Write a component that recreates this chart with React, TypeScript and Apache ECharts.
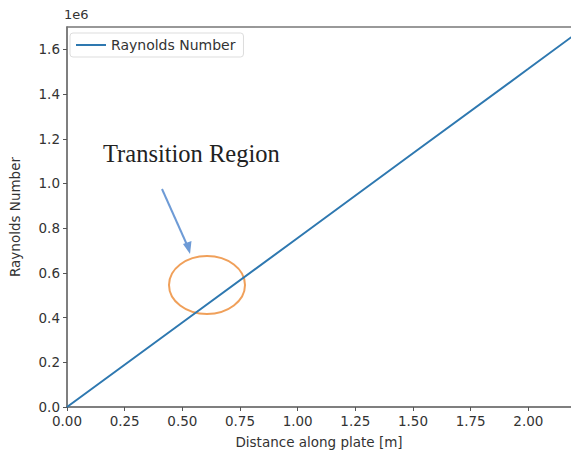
import React, { useEffect, useRef } from "react";
import * as echarts from "echarts";

const seriesName = "Raynolds Number";
const distance = [0, 0.5, 1.0, 1.5, 2.0, 2.2];
const reynolds = [0, 378000, 756000, 1135000, 1513000, 1665000];
const xTicks = [0, 0.25, 0.5, 0.75, 1.0, 1.25, 1.5, 1.75, 2.0];
const yTicks = [0, 200000, 400000, 600000, 800000, 1000000, 1200000, 1400000, 1600000];
const annotationText = "Transition Region";
const xName = "Distance along plate [m]";
const yName = "Raynolds Number";
const offsetText = "1e6";

export default function App() {
  const ref = useRef<HTMLDivElement>(null);
  useEffect(() => {
    document.body.style.margin = "0";
    const chart = echarts.init(ref.current!, null, { renderer: "svg" });
    const font = "DejaVu Sans";
    chart.setOption({
      animation: false,
      backgroundColor: "#ffffff",
      grid: {
        left: 63,
        top: 27,
        right: 0,
        bottom: 45,
        show: false,
        containLabel: false,
      },
      legend: {
        left: 70,
        top: 33,
        padding: [5, 8, 5, 6],
        backgroundColor: "#fff",
        borderColor: "#ddd",
        borderWidth: 1,
        borderRadius: 3,
        itemWidth: 30,
        itemHeight: 10,
        itemGap: 10,
        textStyle: { fontFamily: font, fontSize: 14, color: "#333" },
        data: [{ name: seriesName, icon: "path://M0,4H30V6H0Z" }],
      },
      xAxis: [
        {
          type: "value",
          min: 0,
          max: 2.185,
          interval: 0.25,
          name: xName,
          nameLocation: "middle",
          nameGap: 28,
          nameTextStyle: { fontFamily: font, fontSize: 13.5, color: "#333" },
          splitLine: { show: false },
          axisLine: { show: true, lineStyle: { color: "#555", width: 1.5 } },
          axisTick: { show: true, length: 4, lineStyle: { color: "#555" }, customValues: xTicks },
          axisLabel: {
            fontFamily: font,
            fontSize: 13.5,
            color: "#333",
            margin: 7,
            customValues: xTicks,
            formatter: (v: number) => v.toFixed(2),
          },
        },
        {
          type: "value",
          position: "top",
          min: 0,
          max: 2.185,
          interval: 0.25,
          splitLine: { show: false },
          axisLine: { show: true, lineStyle: { color: "#777", width: 1.5 } },
          axisTick: { show: false },
          axisLabel: { show: false },
        },
      ],
      yAxis: {
        type: "value",
        min: 0,
        max: 1700000,
        interval: 200000,
        name: yName,
        nameLocation: "middle",
        nameGap: 45,
        nameRotate: 90,
        nameTextStyle: { fontFamily: font, fontSize: 13.5, color: "#333" },
        splitLine: { show: false },
        axisLine: { show: true, lineStyle: { color: "#555", width: 1.5 } },
        axisTick: { show: true, length: 4, lineStyle: { color: "#555" }, customValues: yTicks },
        axisLabel: {
          fontFamily: font,
          fontSize: 13.5,
          color: "#333",
          margin: 7,
          customValues: yTicks,
          formatter: (v: number) => (v / 1e6).toFixed(1),
        },
      },
      series: [
        {
          name: seriesName,
          type: "line",
          symbol: "none",
          xAxisIndex: 0,
          data: distance.map((d, i) => [d, reynolds[i]]),
          lineStyle: { color: "#2e78b0", width: 2 },
          itemStyle: { color: "#2e78b0" },
        },
      ],
      graphic: [
        {
          type: "text",
          left: 64,
          top: 8,
          style: { text: offsetText, fontFamily: font, fontSize: 13, fill: "#333" },
        },
        {
          type: "text",
          x: 103,
          y: 153,
          style: {
            text: annotationText,
            fontFamily: "Liberation Serif",
            fontSize: 24.5,
            fill: "#222",
            verticalAlign: "middle",
          },
        },
        {
          type: "line",
          shape: { x1: 162, y1: 189, x2: 187.5, y2: 246 },
          style: { stroke: "#6e9bd6", lineWidth: 2 },
        },
        {
          type: "polygon",
          shape: { points: [[190, 254], [183, 244], [191.5, 241]] },
          style: { fill: "#6e9bd6" },
        },
        {
          type: "ellipse",
          shape: { cx: 207, cy: 285, rx: 38, ry: 29 },
          style: { fill: "none", stroke: "#f0a05a", lineWidth: 2 },
        },
      ],
    });
    return () => chart.dispose();
  }, []);
  return <div ref={ref} style={{ width: 571, height: 454 }} />;
}
